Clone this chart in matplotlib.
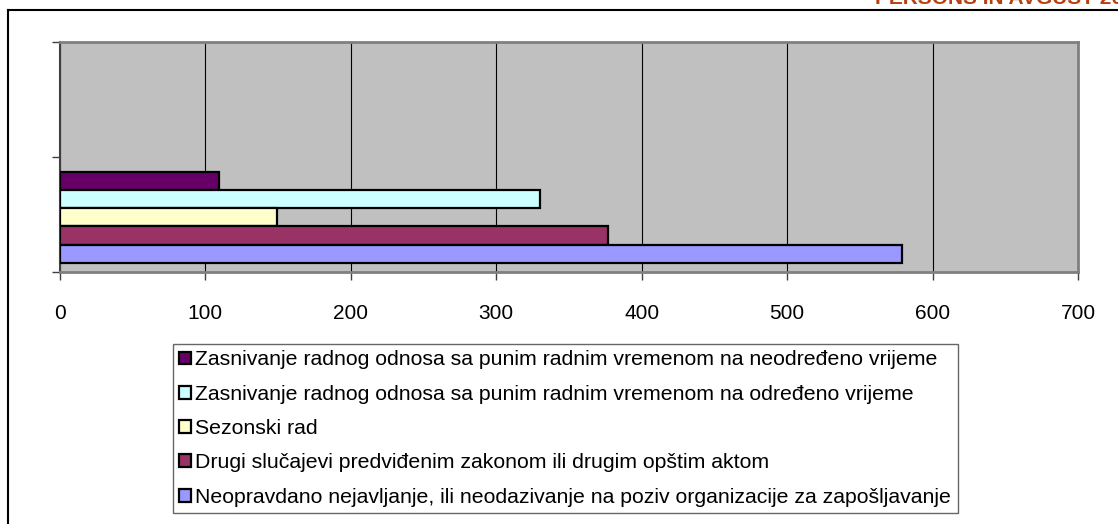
import matplotlib
matplotlib.use('Agg')
import matplotlib.pyplot as plt
from matplotlib.patches import Patch
from matplotlib.lines import Line2D
import numpy as np

plt.rcParams['font.family'] = ['Liberation Sans', 'DejaVu Sans']

# series, listed top to bottom as drawn
labels = [
    'Zasnivanje radnog odnosa sa punim radnim vremenom na neodređeno vrijeme',
    'Zasnivanje radnog odnosa sa punim radnim vremenom na određeno vrijeme',
    'Sezonski rad',
    'Drugi slučajevi predviđenim zakonom ili drugim opštim aktom',
    'Neopravdano nejavljanje, ili neodazivanje na poziv organizacije za zapošljavanje',
]
values = [109, 330, 149, 377, 579]
colors = ['#660066', '#ccffff', '#ffffcc', '#993366', '#9999ff']
xticks = [0, 100, 200, 300, 400, 500, 600, 700]
title = 'PERSONS IN AVGUST 2011'

fig = plt.figure(figsize=(11.18, 5.24), dpi=100)
ax = fig.add_axes([60 / 1118, 1 - 272 / 524, 1018 / 1118, 230 / 524])
ax.set_facecolor('#c0c0c0')

h = 0.158
n = len(values)
for i, (v, c) in enumerate(zip(values, colors)):
    y = -0.025 + (n // 2 - i) * h
    ax.barh(y, v, height=h, color=c, edgecolor='black', linewidth=1.6, zorder=3)

ax.set_xlim(0, 700)
ax.set_ylim(-0.5, 1.5)
ax.set_xticks(xticks)
ax.set_xticklabels([str(t) for t in xticks], fontsize=15)
ax.set_yticks([-0.5, 0.5, 1.5])
ax.set_yticklabels([])
ax.xaxis.grid(True, color='black', linewidth=0.8, zorder=1)
ax.set_axisbelow(True)
ax.tick_params(axis='x', direction='out', length=6, width=1, color='#404040', pad=17)
ax.tick_params(axis='y', direction='out', length=6, width=1, color='#404040')
for s in ['top', 'right', 'bottom']:
    ax.spines[s].set_color('#808080')
    ax.spines[s].set_linewidth(2)
ax.spines['left'].set_color('#404040')
ax.spines['left'].set_linewidth(1.5)

handles = [Patch(facecolor=c, edgecolor='black', linewidth=1.6) for c in colors]
leg = fig.legend(handles, labels, loc='lower left', bbox_to_anchor=(173 / 1118, 11 / 524),
                 fontsize=15.3, frameon=True, fancybox=False, edgecolor='#404040',
                 handlelength=0.55, handleheight=0.55, handletextpad=0.2,
                 labelspacing=0.72, borderpad=0.3, borderaxespad=0)
leg.get_frame().set_linewidth(1)

# clipped title and outer frame lines
fig.text(875 / 1118, 1 - 4 / 524, title, color='#b84010', fontsize=15, fontweight='bold',
         ha='left', va='baseline')
fig.add_artist(Line2D([8 / 1118, 1], [1 - 10 / 524, 1 - 10 / 524], color='black', linewidth=1.5))
fig.add_artist(Line2D([8 / 1118, 8 / 1118], [0, 1 - 10 / 524], color='black', linewidth=1.5))

fig.savefig('out.png', dpi=100)
